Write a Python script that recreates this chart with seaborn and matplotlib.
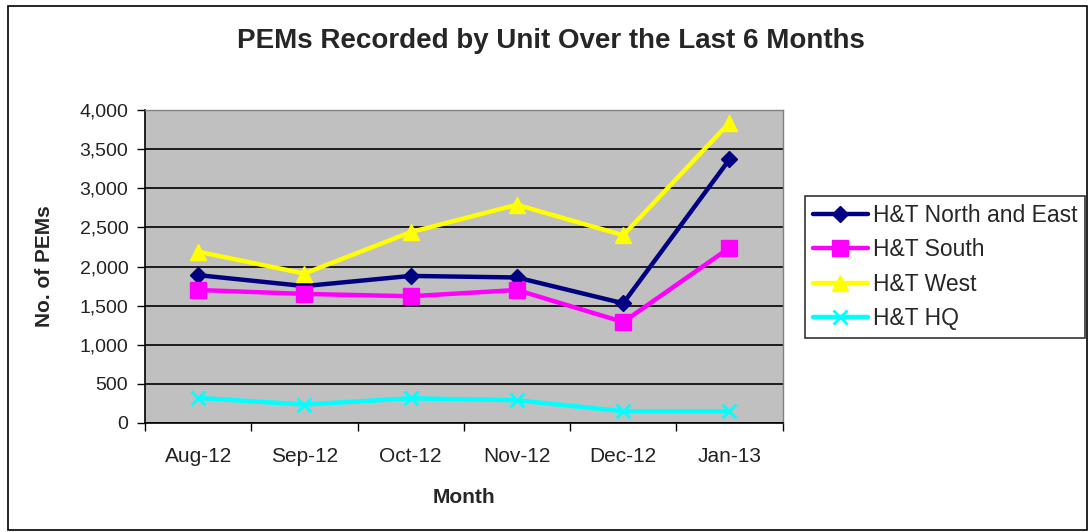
import matplotlib
matplotlib.use("Agg")
import matplotlib.pyplot as plt
import matplotlib.patches as mpatches
from matplotlib.ticker import FuncFormatter
import seaborn as sns
import pandas as pd

months = ["Aug-12", "Sep-12", "Oct-12", "Nov-12", "Dec-12", "Jan-13"]
north_east = [1890, 1750, 1880, 1860, 1530, 3370]
south = [1700, 1650, 1620, 1700, 1290, 2240]
west = [2190, 1910, 2440, 2790, 2400, 3840]
hq = [320, 235, 315, 290, 150, 150]
series_names = ["H&T North and East", "H&T South", "H&T West", "H&T HQ"]

colors = ["#000080", "#FF00FF", "#FFFF00", "#00FFFF"]
markers = ["D", "s", "^", "x"]
msizes = [8, 12, 12, 10]

sns.set_theme(style="white")
plt.rcParams["font.family"] = ["Liberation Sans", "DejaVu Sans"]

rows = []
for name, vals in zip(series_names, [north_east, south, west, hq]):
    for m, v in zip(months, vals):
        rows.append({"Month": m, "Unit": name, "PEMs": v})
df = pd.DataFrame(rows)
df["x"] = df["Month"].map({m: i for i, m in enumerate(months)})

fig = plt.figure(figsize=(10.9, 5.32), dpi=100)
fig.patch.set_facecolor("white")
ax = fig.add_axes([0.133, 0.205, 0.585, 0.588])
ax.set_facecolor("#C0C0C0")

for name, c, mk, ms in zip(series_names, colors, markers, msizes):
    sub = df[df["Unit"] == name]
    sns.lineplot(data=sub, x="x", y="PEMs", ax=ax, color=c, linewidth=3.2,
                 marker=mk, markersize=ms, markeredgecolor=c,
                 markeredgewidth=2 if mk == "x" else 1, label=name)

ax.set_xlim(-0.5, 5.5)
ax.set_ylim(0, 4000)
ax.set_yticks(range(0, 4001, 500))
ax.yaxis.set_major_formatter(FuncFormatter(lambda v, p: f"{int(v):,}"))
ax.set_xticks(range(len(months)))
ax.set_xticklabels(months)
ax.set_xticks([i - 0.5 for i in range(len(months) + 1)], minor=True)
ax.tick_params(axis="x", which="major", length=0, pad=17, labelsize=15, labelcolor="#222222")
ax.tick_params(axis="x", which="minor", length=6, width=1, color="black", direction="out", bottom=True)
ax.tick_params(axis="y", length=6, width=1, color="black", direction="out", left=True, labelsize=14, pad=6, labelcolor="#222222")
ax.yaxis.grid(True, color="black", linewidth=1.2)
ax.set_axisbelow(True)
for side in ["top", "right"]:
    ax.spines[side].set_visible(True)
    ax.spines[side].set_color("#808080")
    ax.spines[side].set_linewidth(1)
for side in ["left", "bottom"]:
    ax.spines[side].set_color("black")
    ax.spines[side].set_linewidth(1.2)

ax.set_xlabel("Month", fontsize=15, fontweight="bold", labelpad=16)
ax.set_ylabel("No. of PEMs", fontsize=15, fontweight="bold", labelpad=18)

leg = ax.legend(loc="upper left", bbox_to_anchor=(0.7385, 0.632),
                bbox_transform=fig.transFigure, frameon=True, fontsize=16.5,
                handlelength=2.4, handletextpad=0.2, borderpad=0.35,
                labelspacing=0.5, fancybox=False, borderaxespad=0)
leg.get_frame().set_edgecolor("black")
leg.get_frame().set_linewidth(1.2)

fig.text(0.505, 0.922, "PEMs Recorded by Unit Over the Last 6 Months",
         ha="center", va="center", fontsize=20, fontweight="bold")

fig.patches.append(mpatches.Rectangle((0.007, 0.004), 0.99, 0.985,
                                      transform=fig.transFigure, fill=False,
                                      edgecolor="black", linewidth=1.2))

fig.savefig("out.png", dpi=100)
